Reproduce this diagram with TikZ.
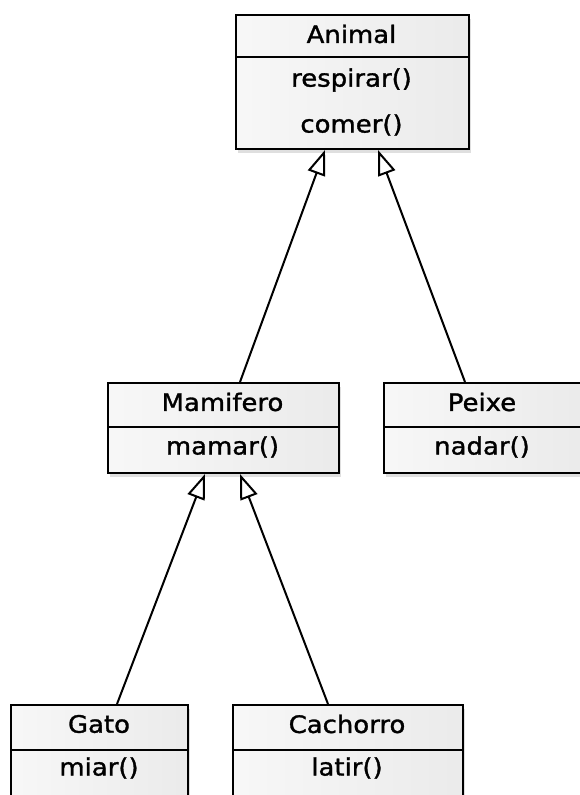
\documentclass[tikz,border=0pt]{standalone}
\usepackage{fontspec}
\setmainfont[FakeStretch=1.08,FakeBold=1.3]{DejaVu Sans}
\usetikzlibrary{arrows.meta,shadows,calc}
\begin{document}
\begin{tikzpicture}[x=1pt,y=-1pt,
  classbox/.style={draw=black, line width=2pt, anchor=north west, inner sep=0pt,
    left color=gray!6, right color=gray!16,
    drop shadow={shadow xshift=2pt, shadow yshift=-4pt, opacity=0.25, fill=gray}},
  sepline/.style={draw=black, line width=2pt},
  lbl/.style={font=\fontsize{24}{27}\selectfont, inner sep=0pt},
  inh/.style={draw=black, line width=2pt,
    -{Triangle[length=25pt,width=18pt,fill=white,line join=miter]}}]
\clip (0,0) rectangle (580,795);
\fill[white] (0,0) rectangle (580,795);

% Animal
\node[classbox, minimum width=233pt, minimum height=134pt] (animal) at (235,14) {};
\draw[sepline] ($(animal.north west)+(0,43)$) -- ($(animal.north east)+(0,43)$);
\node[lbl] (animalT) at (351.5,34) {Animal};
\node[lbl] (animalM1) at (351.5,80) {respirar()};
\node[lbl] (animalM2) at (351.5,125) {comer()};

% Mamifero
\node[classbox, minimum width=231pt, minimum height=90pt] (mamifero) at (107,382) {};
\draw[sepline] ($(mamifero.north west)+(0,45)$) -- ($(mamifero.north east)+(0,45)$);
\node[lbl] (mamiferoT) at (222.5,402) {Mamifero};
\node[lbl] (mamiferoM) at (222.5,447) {mamar()};

% Peixe
\node[classbox, minimum width=198pt, minimum height=90pt] (peixe) at (383,382) {};
\draw[sepline] ($(peixe.north west)+(0,45)$) -- ($(peixe.north east)+(0,45)$);
\node[lbl] (peixeT) at (482,402) {Peixe};
\node[lbl] (peixeM) at (482,447) {nadar()};

% Gato
\node[classbox, minimum width=177pt, minimum height=110pt] (gato) at (10,704) {};
\draw[sepline] ($(gato.north west)+(0,46)$) -- ($(gato.north east)+(0,46)$);
\node[lbl] (gatoT) at (99,724) {Gato};
\node[lbl] (gatoM) at (99,768) {miar()};

% Cachorro
\node[classbox, minimum width=230pt, minimum height=110pt] (cachorro) at (232,704) {};
\draw[sepline] ($(cachorro.north west)+(0,46)$) -- ($(cachorro.north east)+(0,46)$);
\node[lbl] (cachorroT) at (347,724) {Cachorro};
\node[lbl] (cachorroM) at (347,768) {latir()};

% connection points
\coordinate (aL) at ($(animal.south west)+(90,0)$);
\coordinate (aR) at ($(animal.south west)+(143,0)$);
\coordinate (mTop) at ($(mamifero.north west)+(133,0)$);
\coordinate (pTop) at ($(peixe.north west)+(82,0)$);
\coordinate (mL) at ($(mamifero.south west)+(98,0)$);
\coordinate (mR) at ($(mamifero.south west)+(133,0)$);
\coordinate (gTop) at ($(gato.north west)+(107,0)$);
\coordinate (cTop) at ($(cachorro.north west)+(96,0)$);

\draw[inh] (mTop) -- (aL);
\draw[inh] (pTop) -- (aR);
\draw[inh] (gTop) -- (mL);
\draw[inh] (cTop) -- (mR);
\end{tikzpicture}
\end{document}
